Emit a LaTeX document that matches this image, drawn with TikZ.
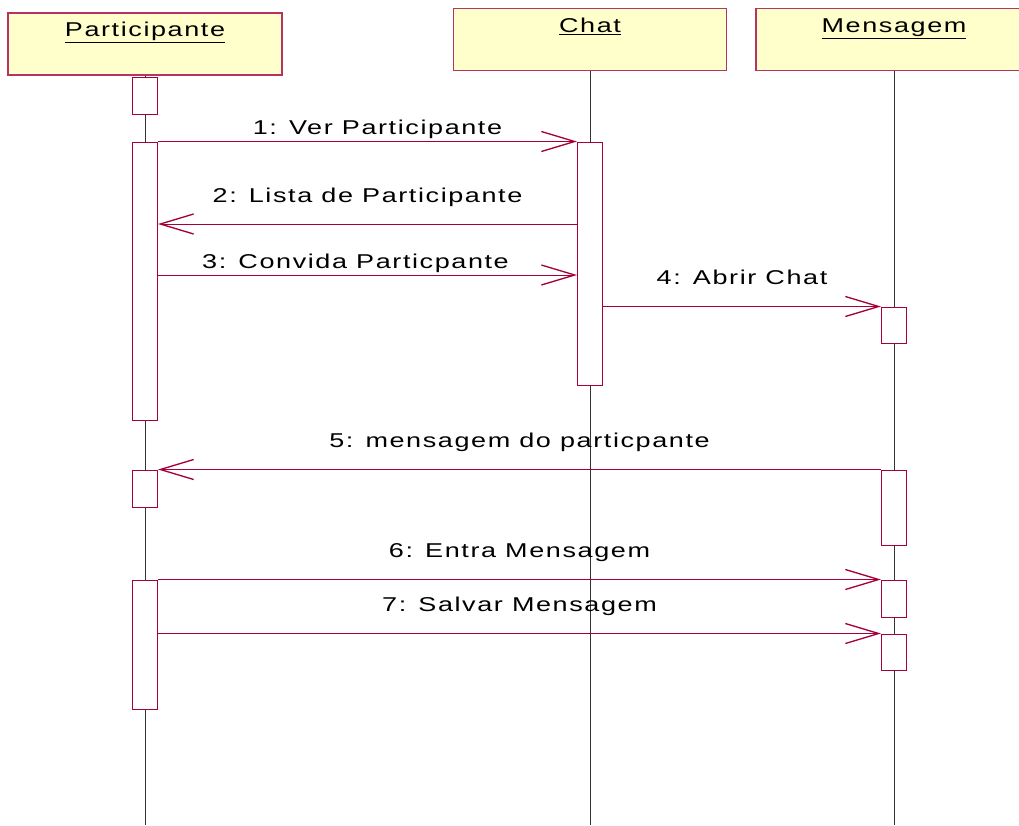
\documentclass[tikz,border=0pt]{standalone}
\usepackage{fontspec}
\setmainfont{Liberation Sans}[FakeStretch=1.35,LetterSpace=8]
\usetikzlibrary{arrows.meta}

\definecolor{umlred}{RGB}{165,0,60}
\definecolor{umlfill}{RGB}{255,255,204}
\newcommand\px{0.75pt}

\tikzset{
  head/.style={draw=umlred!80, fill=umlfill, line width=0.8pt, inner sep=0pt,
    minimum height=62*\px},
  title/.style={anchor=base, inner sep=0pt},
  life/.style={draw=black!80, line width=0.75pt},
  act/.style={draw=umlred, fill=white, line width=0.75pt, inner sep=0pt,
    minimum width=25*\px},
  msg/.style={draw=umlred, line width=0.75pt,
    -{Straight Barb[length=25pt,width=15pt,line width=1pt]}},
  lbl/.style={midway, anchor=base, inner sep=0pt, yshift=#1, text=black},
  lbl/.default=16.5pt
}

\begin{document}
\begin{tikzpicture}[x=0.75pt,y=-0.75pt,font=\fontsize{15}{18}\selectfont]
\clip (0,0) rectangle (1019,825);
\fill[white] (0,0) rectangle (1019,825);
\coordinate (bottom) at (0,825);

% heads
\node[head, minimum width=274*\px] at (145,44) (partHead) {};
\node[head, minimum width=273*\px] at (590,39.5) (chatHead) {};
\node[head, minimum width=276*\px] at (894,39.5) (msgHead) {};
\node[title] at ([yshift=-18pt]partHead.north) (partTitle) {\underline{Participante}};
\node[title] at ([yshift=-18.5pt]chatHead.north) (chatTitle) {\underline{Chat}};
\node[title] at ([yshift=-18.5pt]msgHead.north) (msgTitle) {\underline{Mensagem}};

% lifelines
\draw[life] (partHead.south) -- (partHead.south |- bottom);
\draw[life] (chatHead.south) -- (chatHead.south |- bottom);
\draw[life] (msgHead.south) -- (msgHead.south |- bottom);

% activations
\node[act, minimum height=37*\px] at (145,95.5) (pA1) {};
\node[act, minimum height=278*\px] at (145,281) (pA2) {};
\node[act, minimum height=37*\px] at (145,488.5) (pA3) {};
\node[act, minimum height=129*\px] at (145,644.5) (pA4) {};
\node[act, minimum height=243*\px] at (590,263.5) (cA1) {};
\node[act, minimum height=36*\px] at (894,325) (mA1) {};
\node[act, minimum height=75*\px] at (894,507.5) (mA2) {};
\node[act, minimum height=37*\px] at (894,598.5) (mA3) {};
\node[act, minimum height=36*\px] at (894,652) (mA4) {};

% messages
\coordinate (m2) at (0,224);
\coordinate (m3) at (0,275);
\draw[msg] (pA2.north east) -- (cA1.north west)
  node[lbl=5pt, xshift=7.5pt] {1: Ver Participante};
\draw[msg] (cA1.west |- m2) -- (pA2.east |- m2)
  node[lbl] {2: Lista de Participante};
\draw[msg] (pA2.east |- m3) -- (cA1.west |- m3)
  node[lbl=5pt, xshift=-9pt] {3: Convida Particpante};
\draw[msg] (cA1.east |- mA1.north) -- (mA1.north west)
  node[lbl] {4: Abrir Chat};
\draw[msg] (mA2.north west) -- (pA3.north east)
  node[lbl] {5: mensagem do particpante};
\draw[msg] (pA4.north east) -- (mA3.north west)
  node[lbl] {6: Entra Mensagem};
\draw[msg] (pA4.east |- mA4.north) -- (mA4.north west)
  node[lbl] {7: Salvar Mensagem};

\end{tikzpicture}
\end{document}
